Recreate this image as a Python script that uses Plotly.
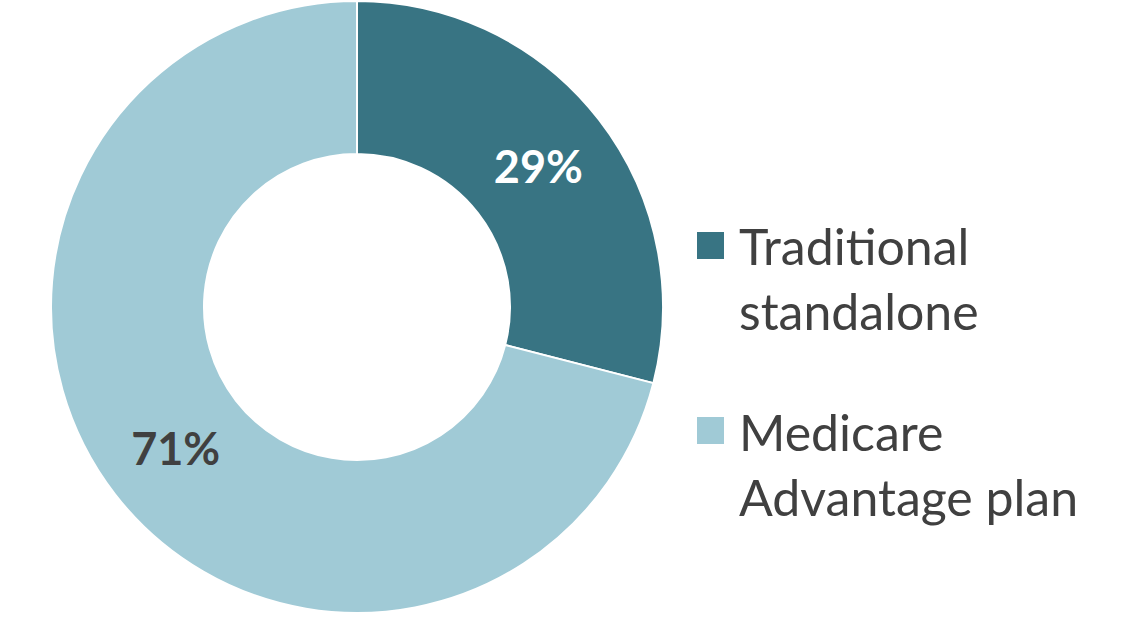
import plotly.graph_objects as go

labels = ["Tradi<span>tional</span><br>standalone", "Medicare<br>Advantage plan"]
values = [29, 71]
colors = ["#387483", "#A0CAD6"]
text_colors = ["#FFFFFF", "#404040"]

W, H = 1132, 620
FONT = "Lato, 'Open Sans', sans-serif"


def px(x):
    return x / W


def py(y):
    return 1 - y / H


fig = go.Figure()
fig.add_trace(go.Pie(
    labels=labels, values=values, sort=False, direction="clockwise", rotation=0,
    hole=0.5,
    marker=dict(colors=colors, line=dict(color="white", width=2)),
    texttemplate="%{value}%", textposition="inside",
    insidetextorientation="horizontal",
    textfont=dict(family=FONT, size=45, color=text_colors, weight="bold"),
    domain=dict(x=[px(51), px(663)], y=[py(613), py(1)]),
    showlegend=False, hoverinfo="percent",
))

# legend drawn by hand so the swatches can be large
legend_top = [214, 400]   # px, top of each text block
swatch_top = [232, 417]
for lab, col, top, st in zip(labels, colors, legend_top, swatch_top):
    fig.add_shape(type="rect", xref="paper", yref="paper",
                  x0=px(697), x1=px(724), y0=py(st), y1=py(st + 27),
                  fillcolor=col, line=dict(width=0))
    fig.add_annotation(text=lab, xref="paper", yref="paper",
                       x=px(737), y=py(top), xanchor="left", yanchor="top",
                       align="left", showarrow=False,
                       font=dict(family=FONT, size=50, color="#404040"))

fig.update_layout(
    width=W, height=H, margin=dict(l=0, r=0, t=0, b=0),
    paper_bgcolor="white", plot_bgcolor="white",
)

# drop the default page margin so the figure sits at the window corner
fig.write_html("out.html", config={"displayModeBar": False},
               post_script="document.body.style.margin='0';")
